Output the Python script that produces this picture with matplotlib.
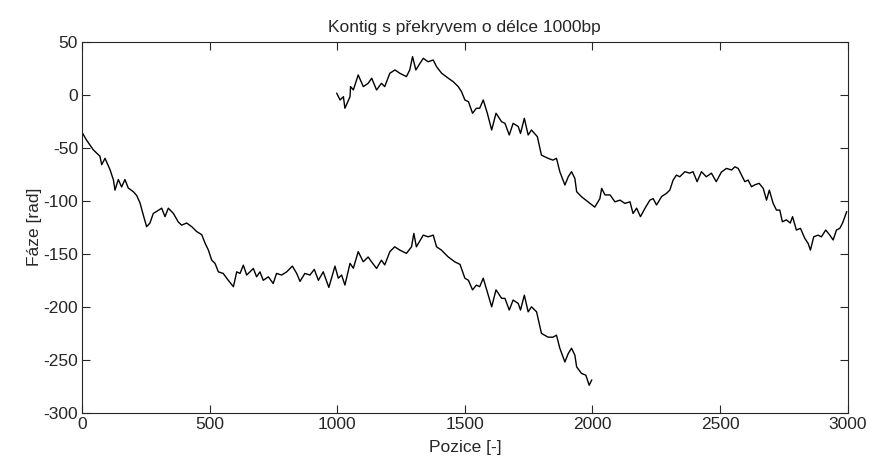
import matplotlib
matplotlib.use("Agg")
import matplotlib.pyplot as plt

plt.rcParams['font.family'] = ['Liberation Sans', 'DejaVu Sans']
plt.rcParams['axes.unicode_minus'] = False

# First contig: position 0..2000
pos_a = [1, 18, 31, 44, 57, 70, 77, 90, 110, 123, 129, 142, 155, 168, 181, 201, 214,
         227, 240, 253, 266, 279, 299, 312, 325, 338, 358, 377, 390, 410, 430, 449,
         469, 482, 495, 508, 521, 534, 553, 573, 593, 606, 619, 632, 645, 658, 671,
         684, 697, 710, 730, 749, 762, 782, 802, 824, 841, 854, 873, 893, 910, 926,
         945, 967, 991, 1004, 1017, 1030, 1050, 1063, 1082, 1102, 1121, 1134, 1154,
         1173, 1186, 1206, 1225, 1245, 1271, 1291, 1300, 1310, 1337, 1356, 1376,
         1389, 1408, 1434, 1460, 1481, 1500, 1514, 1530, 1545, 1558, 1572, 1588,
         1605, 1622, 1644, 1657, 1674, 1689, 1709, 1718, 1733, 1748, 1761, 1781,
         1800, 1826, 1845, 1859, 1872, 1892, 1905, 1918, 1931, 1938, 1957, 1974,
         1987, 1997]
phase_a = [-36, -43, -47.5, -52, -55, -58, -66, -60, -71, -80.5, -90, -80, -87, -80,
           -88, -91.5, -95, -102, -113.5, -124.5, -121, -112, -109, -107, -115, -107,
           -112, -120, -123, -121, -124.5, -129, -132, -140, -146.5, -156, -159, -167,
           -168.5, -175, -181, -167, -168.5, -160.7, -170, -167, -163.8, -171.7, -167,
           -175, -171.7, -178, -168.5, -170, -167, -161.6, -168.5, -176, -168.5, -170,
           -164.7, -175, -167, -181.7, -161.6, -173, -170, -179.5, -159, -163.6, -148,
           -157.5, -153, -157.5, -163.8, -156, -160.5, -148, -143.4, -146.5, -149.6,
           -143.4, -130.8, -143.4, -132.4, -134, -132.4, -143.4, -146.5, -152.8,
           -157.5, -160, -173, -175, -184, -179.5, -181, -173, -186, -200, -184, -192,
           -192, -203, -193.6, -196.8, -203, -189, -204.7, -200, -204.7, -225, -228.6,
           -228.6, -226.7, -239, -252, -244, -239, -245.6, -256.6, -262.8, -264.4,
           -273.9, -269]

# Second contig: position 1000..3000, overlapping the first by 1000 bp
pos_b = [998, 1011, 1024, 1030, 1050, 1052, 1063, 1082, 1102, 1121, 1135, 1154, 1173,
         1186, 1206, 1226, 1245, 1271, 1284, 1295, 1308, 1324, 1337, 1356, 1376, 1389,
         1409, 1435, 1454, 1474, 1487, 1500, 1514, 1530, 1545, 1558, 1572, 1588, 1605,
         1622, 1644, 1657, 1674, 1689, 1709, 1718, 1733, 1748, 1761, 1784, 1800, 1826,
         1845, 1859, 1872, 1892, 1905, 1918, 1931, 1938, 1957, 1974, 1990, 2009, 2029,
         2036, 2049, 2069, 2088, 2108, 2127, 2147, 2159, 2173, 2188, 2206, 2225, 2238,
         2251, 2271, 2290, 2303, 2316, 2329, 2342, 2362, 2381, 2394, 2410, 2427, 2446,
         2466, 2485, 2505, 2525, 2545, 2558, 2571, 2584, 2597, 2610, 2623, 2636, 2653,
         2669, 2682, 2693, 2708, 2721, 2734, 2744, 2760, 2775, 2784, 2799, 2815, 2832,
         2845, 2854, 2867, 2884, 2897, 2914, 2930, 2943, 2956, 2969, 2980, 2996]
phase_b = [1.3, -5, -1.9, -12.8, -1.9, 7.6, 4.5, 18.6, 7.6, 10.7, 15.5, 4.4, 10.7, 7.6,
           20.2, 23.3, 20.2, 17, 23.3, 35.8, 23.3, 29.5, 34.3, 31, 32.7, 26.4, 20.2,
           15.5, 12.3, 7.6, 2.8, -5, -6.6, -17.5, -12.8, -12.8, -5, -17.5, -33.3, -17.5,
           -25.5, -27, -38, -27, -30, -36.5, -22.3, -38, -33.3, -39.6, -57, -60, -61.7,
           -60, -72.6, -85.2, -77.4, -72.6, -79, -91.5, -96.2, -99.4, -102.5, -106,
           -98, -88.3, -94.5, -94.5, -101, -99.4, -102.5, -101, -112, -107, -115, -107,
           -99.4, -98, -104, -96, -93, -90, -80.5, -75.8, -77.4, -72.6, -74, -72.6, -82,
           -72.6, -77.4, -74, -82, -73, -69.5, -71, -68, -69.5, -75.8, -82, -80.5,
           -86.8, -85, -83.6, -88.3, -99.4, -90, -102.5, -108.8, -108.8, -119.8, -118,
           -121, -115, -127.6, -126, -135.5, -140.2, -146.5, -134, -132.4, -134, -127.6,
           -132.4, -137, -127.6, -126, -121, -110.4]

x_ticks = [0, 500, 1000, 1500, 2000, 2500, 3000]
y_ticks = [-300, -250, -200, -150, -100, -50, 0, 50]

fig = plt.figure(figsize=(8.73, 4.73), dpi=100)
ax = fig.add_axes([0.094, 0.127, 0.877, 0.785])

ax.plot(pos_a, phase_a, color='black', lw=1.0)
ax.plot(pos_b, phase_b, color='black', lw=1.0)

ax.set_xlim(0, 3000)
ax.set_ylim(-300, 50)
ax.set_xticks(x_ticks)
ax.set_yticks(y_ticks)
ax.tick_params(direction='in', length=6, width=0.8, top=True, right=True,
               labelsize=12.5, colors='#262626', pad=3)
for sp in ax.spines.values():
    sp.set_color('#262626')
    sp.set_linewidth(0.8)

ax.set_title('Kontig s překryvem o délce 1000bp', fontsize=12.5, color='#262626', pad=7)
ax.set_xlabel('Pozice [-]', fontsize=12.5, color='#262626', labelpad=6)
ax.set_ylabel('Fáze [rad]', fontsize=12.5, color='#262626', labelpad=1)

fig.savefig('out.png', dpi=100)
